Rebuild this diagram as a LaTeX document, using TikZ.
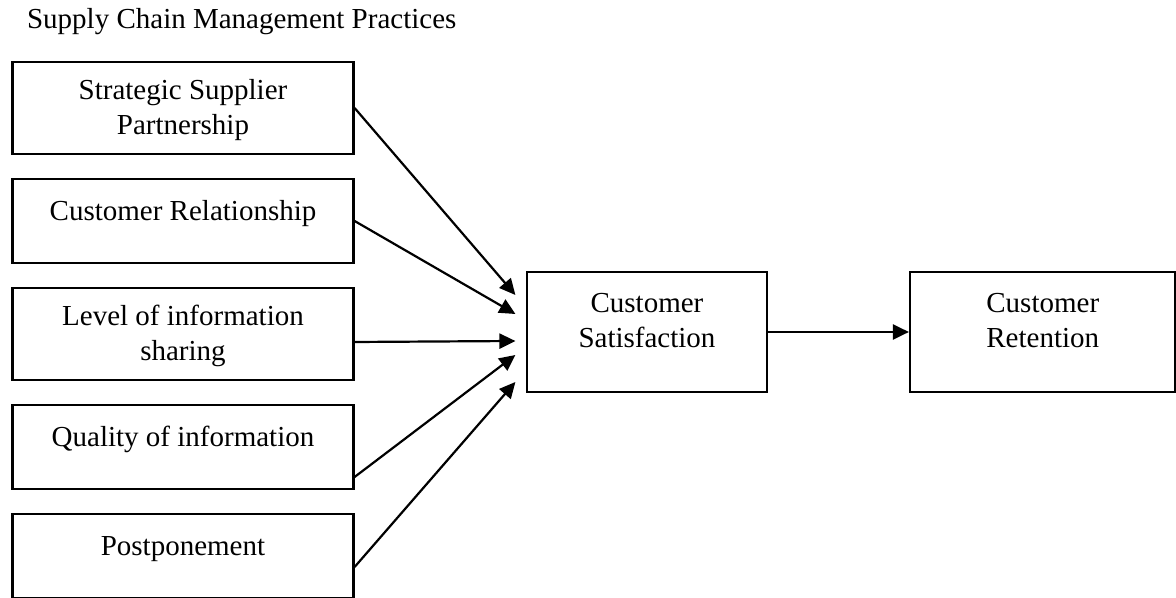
\documentclass[tikz,border=0pt]{standalone}
\usepackage{fontspec}
\setmainfont{Liberation Serif}
\usetikzlibrary{arrows.meta}

\begin{document}
\begin{tikzpicture}[x=0.5pt,y=0.5pt,line width=1.1pt,
        font=\fontsize{14.5}{17.5}\selectfont,
        practice/.style={draw,minimum width=170.5pt,align=center,inner sep=0pt,text height=10pt,text depth=10pt},
        twoline/.style={text height=27.5pt,text depth=0.5pt},
        outcome/.style={draw,minimum height=60.25pt,align=center,inner sep=0pt,text height=27.5pt,text depth=11.5pt},
        link/.style={-{Triangle[length=8pt,width=7.5pt]}}]
        \useasboundingbox (0,0) rectangle (1176,598);
        \node[anchor=base west,inner sep=0pt] (title) at (26,569) {Supply Chain Management Practices};
        % practices
        \node[practice,twoline,minimum height=46pt] (ssp) at (183,490) {Strategic Supplier\\Partnership};
        \node[practice,minimum height=42pt] (crel) at (183,377) {Customer Relationship};
        \node[practice,twoline,minimum height=46pt] (lis) at (183,264) {Level of information\\sharing};
        \node[practice,minimum height=42pt] (qoi) at (183,151) {Quality of information};
        \node[practice,minimum height=42pt] (post) at (183,42) {Postponement};
        % outcomes
        \node[outcome,minimum width=120pt] (sat) at (647,266) {Customer\\Satisfaction};
        \node[outcome,minimum width=132.75pt] (ret) at (1042.75,266) {Customer\\Retention};
        \coordinate (t1) at ([xshift=-5.25pt,yshift=18.5pt]sat.west);
        \coordinate (t2) at ([xshift=-5.25pt,yshift=9pt]sat.west);
        \coordinate (t3) at ([xshift=-5.25pt,yshift=-4.5pt]sat.west);
        \coordinate (t4) at ([xshift=-5.25pt,yshift=-11.5pt]sat.west);
        \coordinate (t5) at ([xshift=-5.25pt,yshift=-25pt]sat.west);
        \draw[link] (ssp.east)--(t1);
        \draw[link] (crel.east)--(t2);
        \draw[link] ([yshift=-4pt]lis.east)--(t3);
        \draw[link] ([yshift=-15pt]qoi.east)--(t4);
        \draw[link] ([yshift=-5.5pt]post.east)--(t5);
        \draw[link] (sat.east)--(ret.west);
    \end{tikzpicture}
\end{document}
